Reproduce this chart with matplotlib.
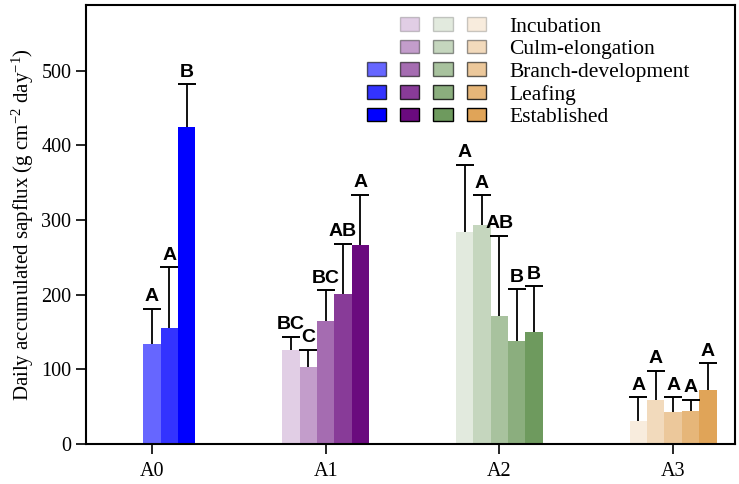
import matplotlib as mpl
import matplotlib.pyplot as plt
from matplotlib.patches import Patch
from matplotlib.legend_handler import HandlerTuple

stages = ['Incubation', 'Culm-elongation', 'Branch-development', 'Leafing', 'Established']
sites = ['A0', 'A1', 'A2', 'A3']

# mean and upper error (bar top + error) per site, None = not measured
a0_mean = [None, None, 134, 156, 424]
a0_top = [None, None, 181, 237, 482]
a0_lab = [None, None, 'A', 'A', 'B']

a1_mean = [126, 103, 165, 201, 267]
a1_top = [144, 126, 206, 268, 334]
a1_lab = ['BC', 'C', 'BC', 'AB', 'A']

a2_mean = [284, 293, 172, 138, 150]
a2_top = [374, 333, 279, 207, 211]
a2_lab = ['A', 'A', 'AB', 'B', 'B']

a3_mean = [31, 59, 43, 44, 73]
a3_top = [63, 98, 63, 59, 108]
a3_lab = ['A', 'A', 'A', 'A', 'A']

base_colors = ['#0000FF', '#6A0A7E', '#6E9A5E', '#E0A458']
alphas = [0.2, 0.4, 0.6, 0.8, 1.0]

mpl.rcParams.update({
  'font.family': 'Liberation Serif',
  'font.size': 14.5,
  'mathtext.fontset': 'custom',
  'mathtext.rm': 'Liberation Serif',
  'mathtext.it': 'Liberation Serif:italic',
  'mathtext.bf': 'Liberation Serif:bold'
})

fig = plt.figure(figsize=(7.39, 4.84), dpi=100)
ax = fig.add_axes([0.1164, 0.0826, 0.8782, 0.9071])

means = [a0_mean, a1_mean, a2_mean, a3_mean]
tops = [a0_top, a1_top, a2_top, a3_top]
labs = [a0_lab, a1_lab, a2_lab, a3_lab]
w = 0.1

for g in range( len( sites ) ):
  for i in range( 5 ):
    m = means[ g ][ i ]
    if m is None:
      continue
    x = g + ( i - 2 ) * w
    t = tops[ g ][ i ]
    ax.bar( x, m, width=w, color=base_colors[ g ], alpha=alphas[ i ], linewidth=0 )
    ax.vlines( x, m, t, color='black', linewidth=1.3 )
    ax.plot( x, t, marker='_', markersize=12.5, mew=1.4, color='black' )
    ax.annotate( labs[ g ][ i ], ( x, t ), xytext=( 0, 2.5 ),
                 textcoords='offset points', ha='center', va='bottom',
                 fontsize=14, fontweight='bold', family='Liberation Sans' )

ax.set_xlim( -0.379, 3.356 )
ax.set_ylim( 0, 588 )
ax.set_xticks( range( 4 ) )
ax.set_xticklabels( sites )
ax.set_yticks( [ 0, 100, 200, 300, 400, 500 ] )
ax.tick_params( direction='out', length=7, width=1.2, labelsize=14.5 )
ax.tick_params( axis='x', pad=6 )
for s in ax.spines.values():
  s.set_linewidth( 1.5 )
ax.set_ylabel( 'Daily accumulated sapflux (g cm$^{\\mathrm{-2}}$ day$^{\\mathrm{-1}}$)', fontsize=15 )

# legend: one row per stage, one swatch per site
blank = Patch( facecolor='none', edgecolor='none' )
handles = []
for i in range( 5 ):
  row = []
  for g in range( 4 ):
    if g == 0 and means[ 0 ][ i ] is None:
      row.append( blank )
    else:
      row.append( Patch( facecolor=base_colors[ g ], edgecolor='black',
                         alpha=alphas[ i ], linewidth=1.0 ) )
  handles.append( tuple( row ) )

ax.legend( handles, stages, handler_map={ tuple: HandlerTuple( ndivide=None, pad=0.65 ) },
           loc='upper right', bbox_to_anchor=( 0.96, 1.016 ), frameon=False,
           handlelength=5.5, handleheight=0.6, handletextpad=1.1,
           labelspacing=0.14, fontsize=15.5 )

fig.savefig( 'out.png', dpi=100 )
